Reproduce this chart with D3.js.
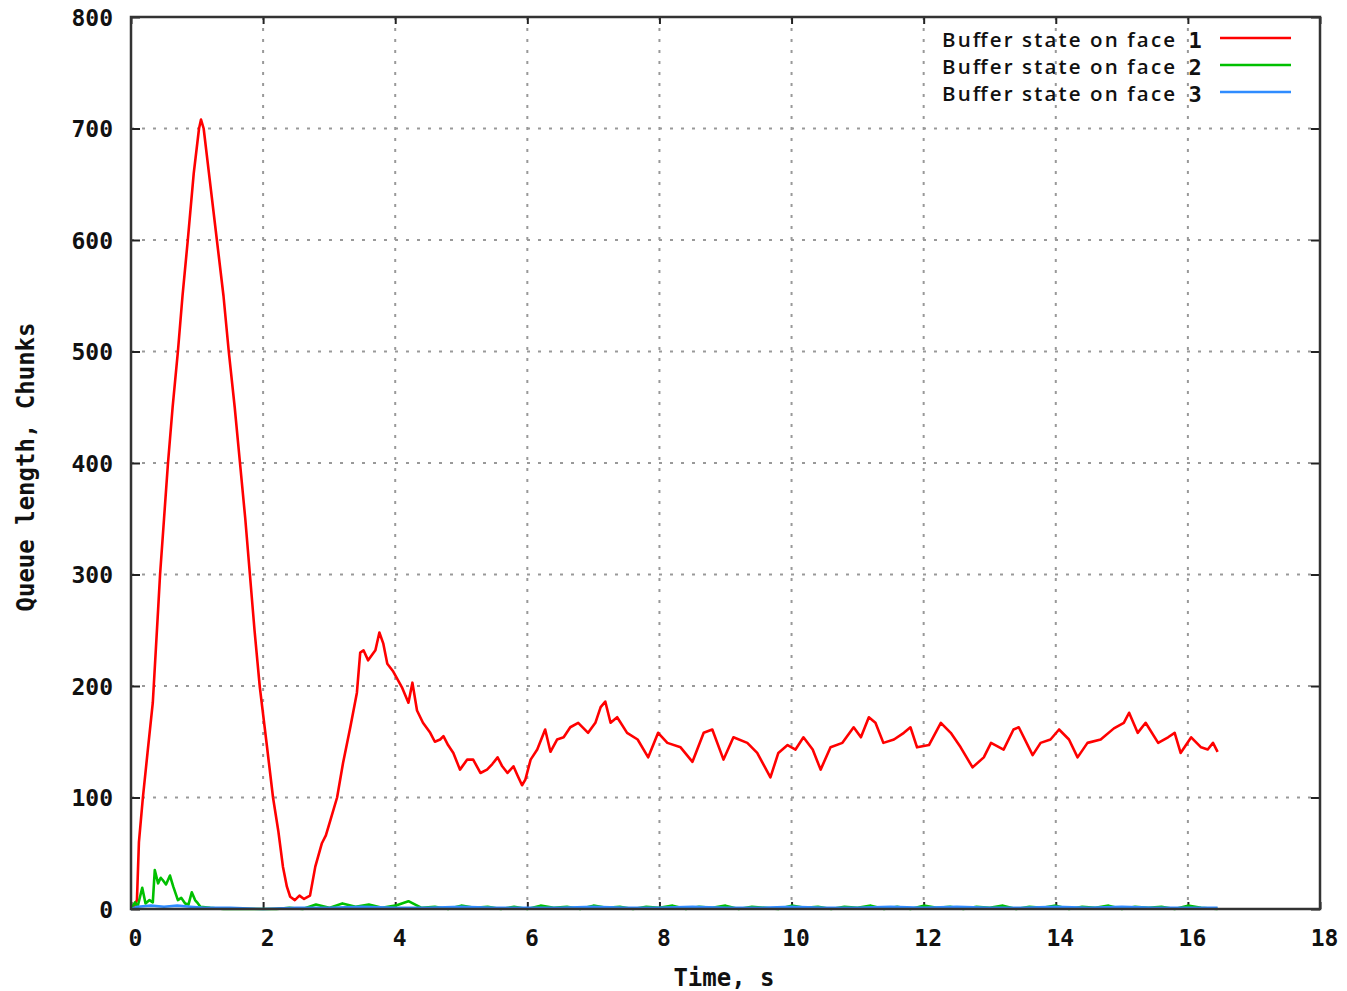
<!DOCTYPE html>
<html>
<head>
<meta charset="utf-8">
<script src="https://cdn.jsdelivr.net/npm/d3@7"></script>
<style>
  html, body { margin: 0; padding: 0; background: #fff; }
  svg { display: block; }
</style>
</head>
<body>
<svg id="chart" width="1347" height="991"></svg>
<script>
// ---------------- DATA ----------------
const xTicks = [0, 2, 4, 6, 8, 10, 12, 14, 16, 18];
const yTicks = [0, 100, 200, 300, 400, 500, 600, 700, 800];
const seriesNames = ["Buffer state on face", "Buffer state on face", "Buffer state on face"];
const seriesIds = ["1", "2", "3"];
const seriesColors = ["#ff0000", "#00c000", "#2f8cff"];
const xTitle = "Time, s";
const yTitle = "Queue length, Chunks";

const face1Time = [0,0.05,0.09,0.12,0.18,0.25,0.33,0.41,0.44,0.50,0.56,0.63,0.71,0.78,0.86,0.95,1.03,1.06,1.10,1.18,1.30,1.40,1.48,1.57,1.65,1.73,1.80,1.87,1.95,2.05,2.15,2.23,2.30,2.36,2.41,2.48,2.55,2.62,2.71,2.79,2.89,2.95,3.02,3.12,3.21,3.32,3.42,3.47,3.52,3.59,3.65,3.70,3.76,3.82,3.88,3.97,4.10,4.20,4.26,4.33,4.42,4.53,4.60,4.68,4.73,4.80,4.88,4.98,5.09,5.18,5.29,5.39,5.47,5.55,5.62,5.70,5.79,5.85,5.92,5.97,6.05,6.15,6.27,6.35,6.45,6.55,6.65,6.77,6.92,7.03,7.11,7.18,7.26,7.36,7.51,7.67,7.83,7.98,8.12,8.32,8.50,8.67,8.80,8.97,9.12,9.33,9.48,9.68,9.80,9.94,10.06,10.18,10.32,10.44,10.59,10.77,10.94,11.05,11.17,11.27,11.39,11.55,11.70,11.80,11.90,12.08,12.26,12.41,12.56,12.74,12.91,13.02,13.21,13.36,13.44,13.65,13.77,13.92,14.05,14.20,14.33,14.48,14.68,14.88,15.03,15.11,15.24,15.36,15.55,15.70,15.80,15.89,16.05,16.20,16.30,16.38,16.45];
const face1Queue = [0,3,8,60,100,140,185,268,300,350,400,450,500,550,600,660,700,708,700,660,600,550,500,450,400,350,300,250,199,150,100,70,38,20,11,8,12,9,12,38,59,66,80,100,131,163,194,230,232,223,228,232,248,238,220,213,199,185,203,178,167,158,150,152,155,147,140,125,134,134,122,125,130,136,128,122,128,120,111,116,134,143,161,141,152,154,163,167,158,167,181,186,167,172,158,152,136,158,149,145,132,158,161,134,154,149,140,118,140,147,143,154,143,125,145,149,163,154,172,167,149,152,158,163,145,147,167,158,145,127,136,149,143,161,163,138,149,152,161,152,136,149,152,162,167,176,158,167,149,154,158,140,154,145,143,149,141];

const face2Time = [0,0.06,0.10,0.17,0.22,0.28,0.33,0.36,0.41,0.45,0.48,0.53,0.59,0.64,0.71,0.76,0.82,0.87,0.92,0.97,1.00,1.05,1.2,1.4,1.6,1.8,2.0,2.2,2.4,2.6,2.8,3.0,3.2,3.4,3.6,3.8,4.0,4.2,4.4,4.6,4.8,5.0,5.2,5.4,5.6,5.8,6.0,6.2,6.4,6.6,6.8,7.0,7.2,7.4,7.6,7.8,8.0,8.2,8.4,8.6,8.8,9.0,9.2,9.4,9.6,9.8,10.0,10.2,10.4,10.6,10.8,11.0,11.2,11.4,11.6,11.8,12.0,12.2,12.4,12.6,12.8,13.0,13.2,13.4,13.6,13.8,14.0,14.2,14.4,14.6,14.8,15.0,15.2,15.4,15.6,15.8,16.0,16.2,16.45];
const face2Queue = [0,6,2,19,5,8,6,35,23,28,26,22,30,20,8,10,5,4,15,8,6,2,1,0,0,0,0,0,1,0,4,1,5,2,4,1,3,7,1,2,0,3,1,2,0,2,0,3,1,2,0,3,1,2,0,2,1,3,0,2,1,3,0,2,1,0,3,1,2,0,2,1,3,0,2,0,3,1,2,0,2,1,3,0,2,1,3,0,2,1,3,0,2,1,2,0,3,1,0];

const face3Time = [0,0.1,0.3,0.5,0.7,0.9,1.1,1.5,2.0,2.5,3.0,3.5,4.0,4.5,5.0,5.5,6.0,6.5,7.0,7.5,8.0,8.5,9.0,9.5,10.0,10.5,11.0,11.5,12.0,12.5,13.0,13.5,14.0,14.5,15.0,15.5,16.0,16.45];
const face3Queue = [0,2,3,2,3,2,1,1,0,1,1,2,1,1,2,1,1,1,2,1,1,2,1,1,2,1,1,2,1,2,1,1,2,1,2,1,1,1];

// ---------------- LAYOUT ----------------
const svg = d3.select("#chart");
const L = 131, R = 1320, T = 17, B = 909;
const x = d3.scaleLinear().domain([0, 18]).range([L, R]);
const y = d3.scaleLinear().domain([0, 800]).range([B, T]);

const monoFont = "'DejaVu Sans Mono', monospace";

// grid
const grid = svg.append("g");
grid.selectAll("line.vg").data(xTicks.filter(d => d > 0 && d < 18)).enter()
  .append("line").attr("x1", d => x(d)).attr("x2", d => x(d)).attr("y1", T).attr("y2", B)
  .attr("stroke", "#999").attr("stroke-width", 2).attr("stroke-dasharray", "3,8");
grid.selectAll("line.hg").data(yTicks.filter(d => d > 0 && d < 800)).enter()
  .append("line").attr("y1", d => y(d)).attr("y2", d => y(d)).attr("x1", L).attr("x2", R)
  .attr("stroke", "#999").attr("stroke-width", 2).attr("stroke-dasharray", "3,8");

// axes (ticks inward, labels)
const axB = d3.axisBottom(x).tickValues(xTicks).tickSize(-7).tickFormat(d3.format("d"));
const axL = d3.axisLeft(y).tickValues(yTicks).tickSize(-9).tickFormat(d3.format("d"));
const axT = d3.axisTop(x).tickValues(xTicks).tickSize(-7).tickFormat("");
const axR = d3.axisRight(y).tickValues(yTicks).tickSize(-9).tickFormat("");

function styleAxis(g) {
  g.select(".domain").remove();
  g.selectAll(".tick line").attr("stroke", "#222").attr("stroke-width", 2);
  g.selectAll(".tick text").attr("font-family", monoFont).attr("font-weight", "bold")
    .attr("font-size", 23).attr("fill", "#111");
}
const gB = svg.append("g").attr("transform", `translate(0,${B})`).call(axB).call(styleAxis);
gB.selectAll(".tick text").attr("y", 0).attr("dy", 0).attr("transform", "translate(4,37)");
const gL = svg.append("g").attr("transform", `translate(${L},0)`).call(axL).call(styleAxis);
gL.selectAll(".tick text").attr("x", -18).attr("dy", "0.35em");
svg.append("g").attr("transform", `translate(0,${T})`).call(axT).call(styleAxis);
svg.append("g").attr("transform", `translate(${R},0)`).call(axR).call(styleAxis);

// series
const line = d3.line().x(d => x(d[0])).y(d => y(d[1]));
const series = [
  d3.zip(face1Time, face1Queue),
  d3.zip(face2Time, face2Queue),
  d3.zip(face3Time, face3Queue)
];
series.forEach((s, i) => {
  svg.append("path").datum(s).attr("d", line).attr("fill", "none")
    .attr("stroke", seriesColors[i]).attr("stroke-width", 2.6)
    .attr("stroke-linejoin", "round");
});

// frame
svg.append("rect").attr("x", L).attr("y", T).attr("width", R - L).attr("height", B - T)
  .attr("fill", "none").attr("stroke", "#333").attr("stroke-width", 2.5);

// legend
const leg = svg.append("g");
seriesNames.forEach((name, i) => {
  const yy = 40 + i * 27;
  leg.append("text").attr("x", 942).attr("y", yy).attr("dy", "0.35em")
    .attr("font-family", "'Open Sans', Lato, sans-serif").attr("font-size", 20.5)
    .attr("font-weight", 600)
    .attr("textLength", 233).attr("lengthAdjust", "spacing")
    .attr("fill", "#111").text(name);
  leg.append("text").attr("x", 1195).attr("y", yy).attr("dy", "0.35em")
    .attr("text-anchor", "middle").attr("font-family", monoFont).attr("font-weight", "bold")
    .attr("font-size", 22).attr("fill", "#111").text(seriesIds[i]);
  leg.append("line").attr("x1", 1220).attr("x2", 1291).attr("y1", yy - 2).attr("y2", yy - 2)
    .attr("stroke", seriesColors[i]).attr("stroke-width", 2.5);
});

// axis titles
svg.append("text").attr("x", 724).attr("y", 978).attr("dy", "0.35em").attr("text-anchor", "middle")
  .attr("font-family", monoFont).attr("font-weight", "bold").attr("font-size", 24)
  .attr("fill", "#111").text(xTitle);
svg.append("text").attr("transform", "translate(26,467) rotate(-90)").attr("dy", "0.35em")
  .attr("text-anchor", "middle").attr("font-family", monoFont).attr("font-weight", "bold")
  .attr("font-size", 24).attr("fill", "#111").text(yTitle);
</script>
</body>
</html>
